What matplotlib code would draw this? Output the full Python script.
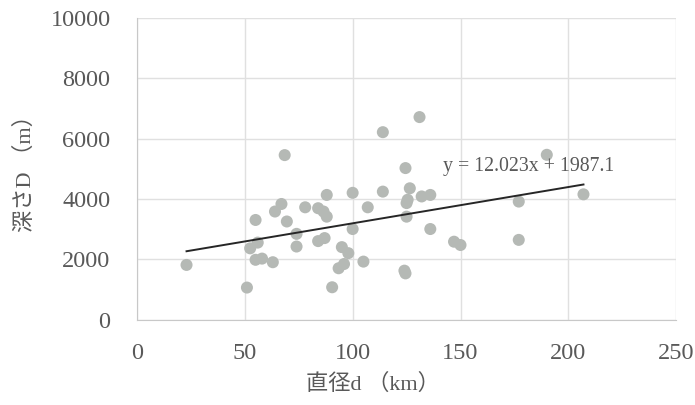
import numpy as np
import matplotlib
matplotlib.use('Agg')
import matplotlib.pyplot as plt

plt.rcParams['font.family'] = ['Liberation Serif', 'Noto Sans CJK JP', 'DejaVu Sans']

# crater diameter d (km) and depth D (m)
diameter = [23, 51, 55, 52.5, 56, 55, 58, 63, 64, 67, 69.5, 68.5,
            74, 74, 78, 84, 86.5, 88, 88, 84, 87, 95, 98, 93.5, 96,
            90.5, 100, 100, 107, 105, 114, 114, 131, 124.5, 126.5,
            125.5, 125, 132, 136, 125, 136, 147, 150, 124, 124.5,
            190, 177, 177, 207]
depth = [1810, 1060, 3300, 2360, 2550, 1980, 2020, 1900, 3580, 3830, 3250, 5450,
         2840, 2420, 3720, 3690, 3580, 3410, 4130, 2600, 2700, 2400, 2200, 1700, 1840,
         1070, 4200, 3000, 3720, 1920, 4240, 6210, 6710, 5020, 4350,
         3970, 3860, 4080, 4130, 3410, 3000, 2580, 2470, 1620, 1530,
         5460, 3910, 2640, 4150]

slope = 12.023
intercept = 1987.1

x_ticks = [0, 50, 100, 150, 200, 250]
y_ticks = [0, 2000, 4000, 6000, 8000, 10000]

text_color = '#595959'

fig = plt.figure(figsize=(6.95, 4.05), dpi=100)
ax = fig.add_axes([0.197, 0.211, 0.776, 0.745])

ax.scatter(diameter, depth, s=75, color='#b5b9b5', edgecolors='none', zorder=3)

# linear trend line over the data range
xs = np.array([min(diameter), max(diameter)])
ax.plot(xs, slope * xs + intercept, color='#262626', linewidth=1.4, zorder=4)
ax.text(142, 5060, f'y = {slope}x + {intercept}', fontsize=14.3,
        color=text_color, va='center', ha='left', zorder=5)

ax.set_xlim(0, 250)
ax.set_ylim(0, 10000)
ax.set_xticks(x_ticks)
ax.set_yticks(y_ticks)
ax.grid(True, color='#e0e0e0', linewidth=1)
ax.set_axisbelow(True)
for side in ['top', 'right']:
    ax.spines[side].set_visible(False)
for side in ['left', 'bottom']:
    ax.spines[side].set_color('#c8c8c8')
ax.tick_params(length=0, labelsize=17.5, labelcolor=text_color)
ax.tick_params(axis='x', pad=17)
ax.tick_params(axis='y', pad=19)

fig.text(373 / 695, 1 - 384 / 405, '直径d （km）', fontsize=16, color=text_color,
         ha='center', va='center')
fig.text(25 / 695, 1 - 168 / 405, '深さD （m）', fontsize=16, color=text_color,
         ha='center', va='center', rotation=90)

fig.savefig('out.png', dpi=100, facecolor='white')
